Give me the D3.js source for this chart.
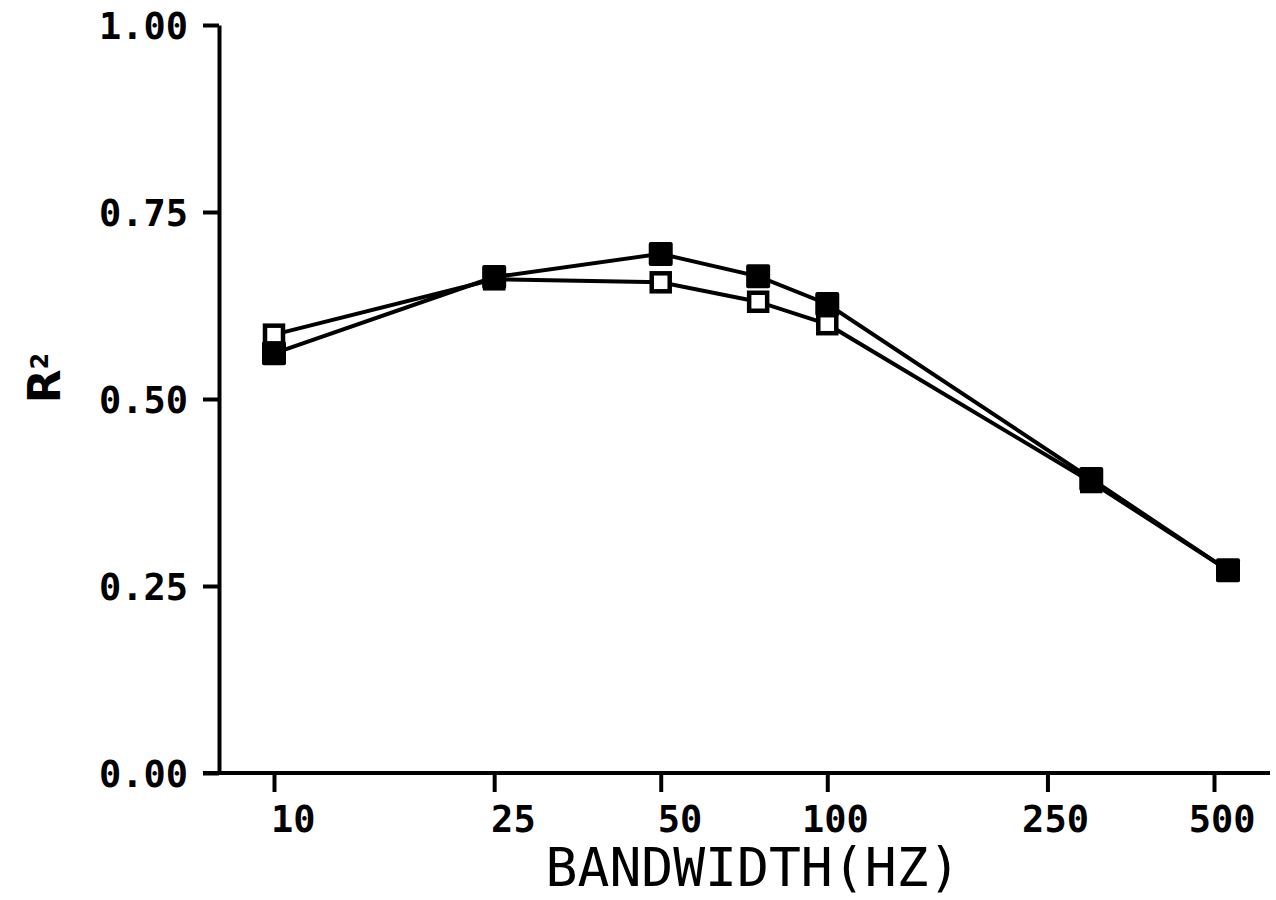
<!DOCTYPE html>
<html>
<head>
<meta charset="utf-8">
<script src="https://cdn.jsdelivr.net/npm/d3@7"></script>
<style>
  html, body { margin: 0; padding: 0; background: #fff; }
  svg { display: block; }
</style>
</head>
<body>
<svg id="chart" width="1276" height="900"></svg>
<script>
// ---- data ----
const bandwidths = [10, 25, 50, 75, 100, 300, 530];
const filledSeries = [0.561, 0.663, 0.694, 0.664, 0.627, 0.393, 0.271];
const openSeries   = [0.586, 0.660, 0.656, 0.630, 0.600, 0.389, 0.271];
const xTickValues = [10, 25, 50, 100, 250, 500];
const xTickLabels = ["10", "25", "50", "100", "250", "500"];
const yTickValues = [0, 0.25, 0.5, 0.75, 1.0];
const yTickLabels = ["0.00", "0.25", "0.50", "0.75", "1.00"];

const svg = d3.select("#chart");
const axisX0 = 219, axisY0 = 773, axisXEnd = 1270;

const x = d3.scaleLog().domain([10, 500]).range([274, 1214]);
const y = d3.scaleLinear().domain([0, 1]).range([773, 25]);

const tickFont = "'DejaVu Sans Mono', monospace";

// y axis
const yAxis = d3.axisLeft(y).tickValues(yTickValues)
  .tickFormat((d, i) => yTickLabels[i]).tickSize(16).tickSizeOuter(0);
const gy = svg.append("g").attr("transform", `translate(${axisX0},0)`).call(yAxis);
gy.select(".domain").attr("stroke", "#000").attr("stroke-width", 4);
gy.selectAll(".tick line").attr("stroke", "#000").attr("stroke-width", 4);
gy.selectAll(".tick text")
  .attr("x", -31).attr("dy", "0.37em")
  .attr("fill", "#000")
  .style("font-family", tickFont).style("font-weight", "bold").style("font-size", "37px");

// x axis
const xAxis = d3.axisBottom(x).tickValues(xTickValues)
  .tickFormat((d, i) => xTickLabels[i]).tickSize(19).tickSizeOuter(0);
const gx = svg.append("g").attr("transform", `translate(0,${axisY0})`).call(xAxis);
gx.select(".domain").remove();
gx.append("line").attr("x1", axisX0 - 16).attr("x2", axisXEnd).attr("y1", 0).attr("y2", 0)
  .attr("stroke", "#000").attr("stroke-width", 4);
gx.selectAll(".tick line").attr("stroke", "#000").attr("stroke-width", 4);
gx.selectAll(".tick text")
  .attr("x", 41).attr("y", 59).attr("dy", null)
  .attr("text-anchor", "end").attr("fill", "#000")
  .style("font-family", tickFont).style("font-weight", "bold").style("font-size", "37px");

// axis titles
svg.append("text")
  .attr("x", 753).attr("y", 886).attr("text-anchor", "middle")
  .style("font-family", tickFont).style("font-size", "53px").attr("fill", "#000")
  .text("BANDWIDTH(HZ)");

const yt = svg.append("text")
  .attr("transform", "translate(60,378) rotate(-90)")
  .attr("text-anchor", "middle")
  .style("font-family", "'DejaVu Sans', sans-serif").style("font-size", "44px")
  .style("font-weight", "bold").attr("fill", "#000");
yt.append("tspan").text("R");
yt.append("tspan").attr("dy", "-0.5em").style("font-size", "24px").text("2");

// lines
const line = d3.line().x(d => x(d[0])).y(d => y(d[1]));
const openData = bandwidths.map((b, i) => [b, openSeries[i]]);
const filledData = bandwidths.map((b, i) => [b, filledSeries[i]]);

svg.append("path").datum(openData).attr("d", line)
  .attr("fill", "none").attr("stroke", "#000").attr("stroke-width", 4);
svg.append("path").datum(filledData).attr("d", line)
  .attr("fill", "none").attr("stroke", "#000").attr("stroke-width", 4);

// markers
const ms = 22;
svg.append("g").selectAll("rect").data(openData).join("rect")
  .attr("x", d => x(d[0]) - ms / 2 + 2).attr("y", d => y(d[1]) - ms / 2 + 2)
  .attr("width", ms - 4).attr("height", ms - 4)
  .attr("fill", "#fff").attr("stroke", "#000").attr("stroke-width", 4.5);
svg.append("g").selectAll("rect").data(filledData).join("rect")
  .attr("x", d => x(d[0]) - ms / 2 - 1).attr("y", d => y(d[1]) - ms / 2 - 1)
  .attr("width", ms + 2).attr("height", ms + 2).attr("rx", 2)
  .attr("fill", "#000");
</script>
</body>
</html>
